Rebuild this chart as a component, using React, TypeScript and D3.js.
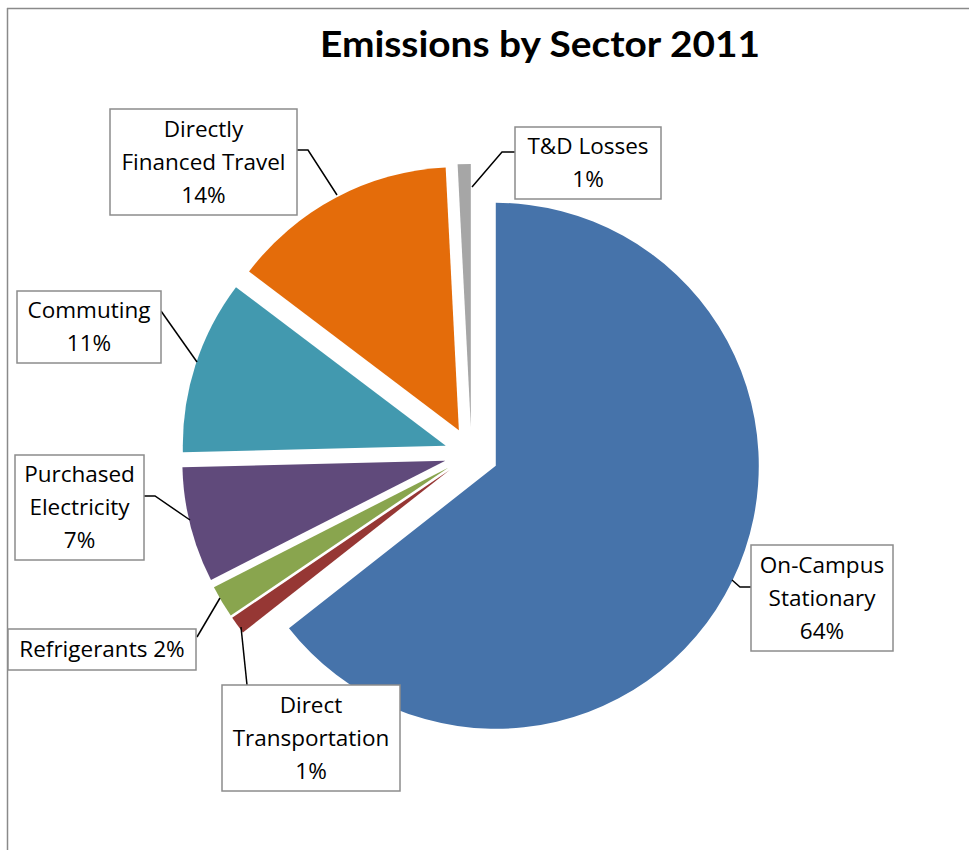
import React from "react";
import * as d3 from "d3";

const categories = [
  "On-Campus Stationary",
  "Direct Transportation",
  "Refrigerants",
  "Purchased Electricity",
  "Commuting",
  "Directly Financed Travel",
  "T&D Losses",
];
const values = [64.4, 1.1, 2.0, 7.1, 10.7, 13.9, 0.8];
const labelLines = [
  ["On-Campus", "Stationary", "64%"],
  ["Direct", "Transportation", "1%"],
  ["Refrigerants 2%"],
  ["Purchased", "Electricity", "7%"],
  ["Commuting", "11%"],
  ["Directly", "Financed Travel", "14%"],
  ["T&D Losses", "1%"],
];
const colors = ["#4673AA", "#963734", "#89A54E", "#604A7B", "#4299AF", "#E46C0A", "#A6A6A6"];

// layout (positions only)
const boxes = [
  { x: 751, y: 545, w: 142, h: 106 },
  { x: 222, y: 685, w: 178, h: 106 },
  { x: 8, y: 629, w: 188, h: 41 },
  { x: 15, y: 455, w: 129, h: 105 },
  { x: 17, y: 291, w: 144, h: 72 },
  { x: 110, y: 109, w: 187, h: 106 },
  { x: 515, y: 127, w: 146, h: 72 },
];
const leaders: [number, number][][] = [
  [[751, 587], [740, 587], [732, 580]],
  [[247, 685], [241, 627]],
  [[197, 637], [220, 598]],
  [[144, 496], [155, 496], [190, 520]],
  [[161, 311], [197, 362]],
  [[297, 150], [308, 150], [337, 195]],
  [[515, 152], [502, 152], [472, 187]],
];

const CX = 471.5;
const CY = 454;
const R = 263;
const EXPLODE = 27;
const FONT = "'Open Sans', 'Noto Sans', sans-serif";
const TITLE_FONT = "Lato, 'Open Sans', sans-serif";

export default function App() {
  const pie = d3
    .pie<number>()
    .sort(null)
    .value((d) => d)
    .startAngle(0)
    .endAngle(2 * Math.PI);
  const arcs = pie(values);
  const arc = d3.arc<d3.PieArcDatum<number>>().innerRadius(0).outerRadius(R);
  const line = d3.line();

  return (
    <svg
      width={969}
      height={850}
      style={{ position: "absolute", left: 0, top: 0, background: "#fff" }}
    >
      <rect x={0} y={0} width={969} height={850} fill="#fff" />
      <line x1={7.5} y1={8} x2={7.5} y2={850} stroke="#8a8a8a" strokeWidth={1.5} />
      <line x1={7} y1={8.5} x2={969} y2={8.5} stroke="#8a8a8a" strokeWidth={1.5} />
      <text
        x={540}
        y={57}
        textAnchor="middle"
        fontFamily={TITLE_FONT}
        fontWeight="bold"
        fontSize={36}
        textLength={440}
        lengthAdjust="spacingAndGlyphs"
        fill="#000"
      >
        Emissions by Sector 2011
      </text>
      <g>
        {arcs.map((a, i) => {
          const mid = (a.startAngle + a.endAngle) / 2;
          const dx = EXPLODE * Math.sin(mid);
          const dy = -EXPLODE * Math.cos(mid);
          return (
            <path
              key={categories[i]}
              d={arc(a) || ""}
              transform={`translate(${CX + dx},${CY + dy})`}
              fill={colors[i]}
            />
          );
        })}
      </g>
      <g>
        {leaders.map((pts, i) => (
          <path key={i} d={line(pts) || ""} fill="none" stroke="#000" strokeWidth={1.5} />
        ))}
      </g>
      <g>
        {boxes.map((b, i) => {
          const lines = labelLines[i];
          const lh = 33;
          const top = b.y + (b.h - lines.length * lh) / 2;
          return (
            <g key={categories[i]}>
              <rect
                x={b.x}
                y={b.y}
                width={b.w}
                height={b.h}
                fill="#fff"
                stroke="#8c8c8c"
                strokeWidth={1.5}
              />
              {lines.map((t, j) => (
                <text
                  key={j}
                  x={b.x + b.w / 2}
                  y={top + lh * j + lh / 2 + 7.5}
                  textAnchor="middle"
                  fontFamily={FONT}
                  fontSize={22.5}
                  fill="#000"
                >
                  {t}
                </text>
              ))}
            </g>
          );
        })}
      </g>
    </svg>
  );
}
